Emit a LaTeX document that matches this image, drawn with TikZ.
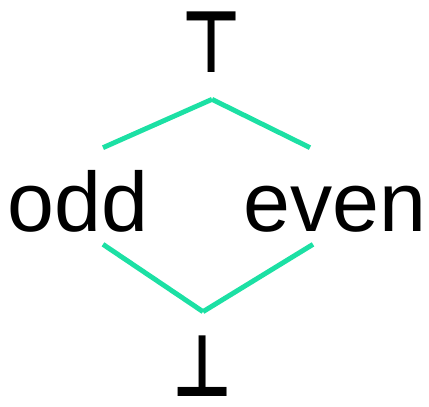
\documentclass[tikz,border=0pt]{standalone}
\usepackage{fontspec}
\setmainfont{Liberation Sans}
\newfontfamily\symfont{DejaVu Sans Bold}
\usepackage{xcolor}
\usepackage{tikz}
\usetikzlibrary{positioning}
\definecolor{ordergreen}{RGB}{28,224,164}
\newcommand{\latsym}[1]{\scalebox{0.78}[1.02]{\symfont #1}}

\begin{document}
\begin{tikzpicture}[
    x=0.02cm, y=-0.02cm,
    elem/.style={inner sep=0pt, anchor=base, font=\fontsize{48}{58}\selectfont},
    order/.style={draw=ordergreen, line width=2.8pt}
]
\useasboundingbox (0,0) rectangle (429,406);

% Lattice elements
\node[elem, text height=0.56cm, text depth=0.54cm] (top) at (212,72) {\latsym{⊤}};
\node[elem, text height=1.66cm, text depth=0.26cm] (odd) at (78,231) {odd};
\node[elem, text height=1.66cm, text depth=0.26cm] (even) at (335,231) {even};
\node[elem, text height=1.68cm, text depth=0cm] (bot) at (203,396) {\latsym{⊥}};

% Ordering
\draw[order] (top.south) -- ([xshift=0.5cm]odd.north);
\draw[order] (top.south) -- ([xshift=-0.5cm]even.north);
\draw[order] ([xshift=0.5cm]odd.south) -- (bot.north);
\draw[order] ([xshift=-0.44cm]even.south) -- (bot.north);

\end{tikzpicture}
\end{document}
